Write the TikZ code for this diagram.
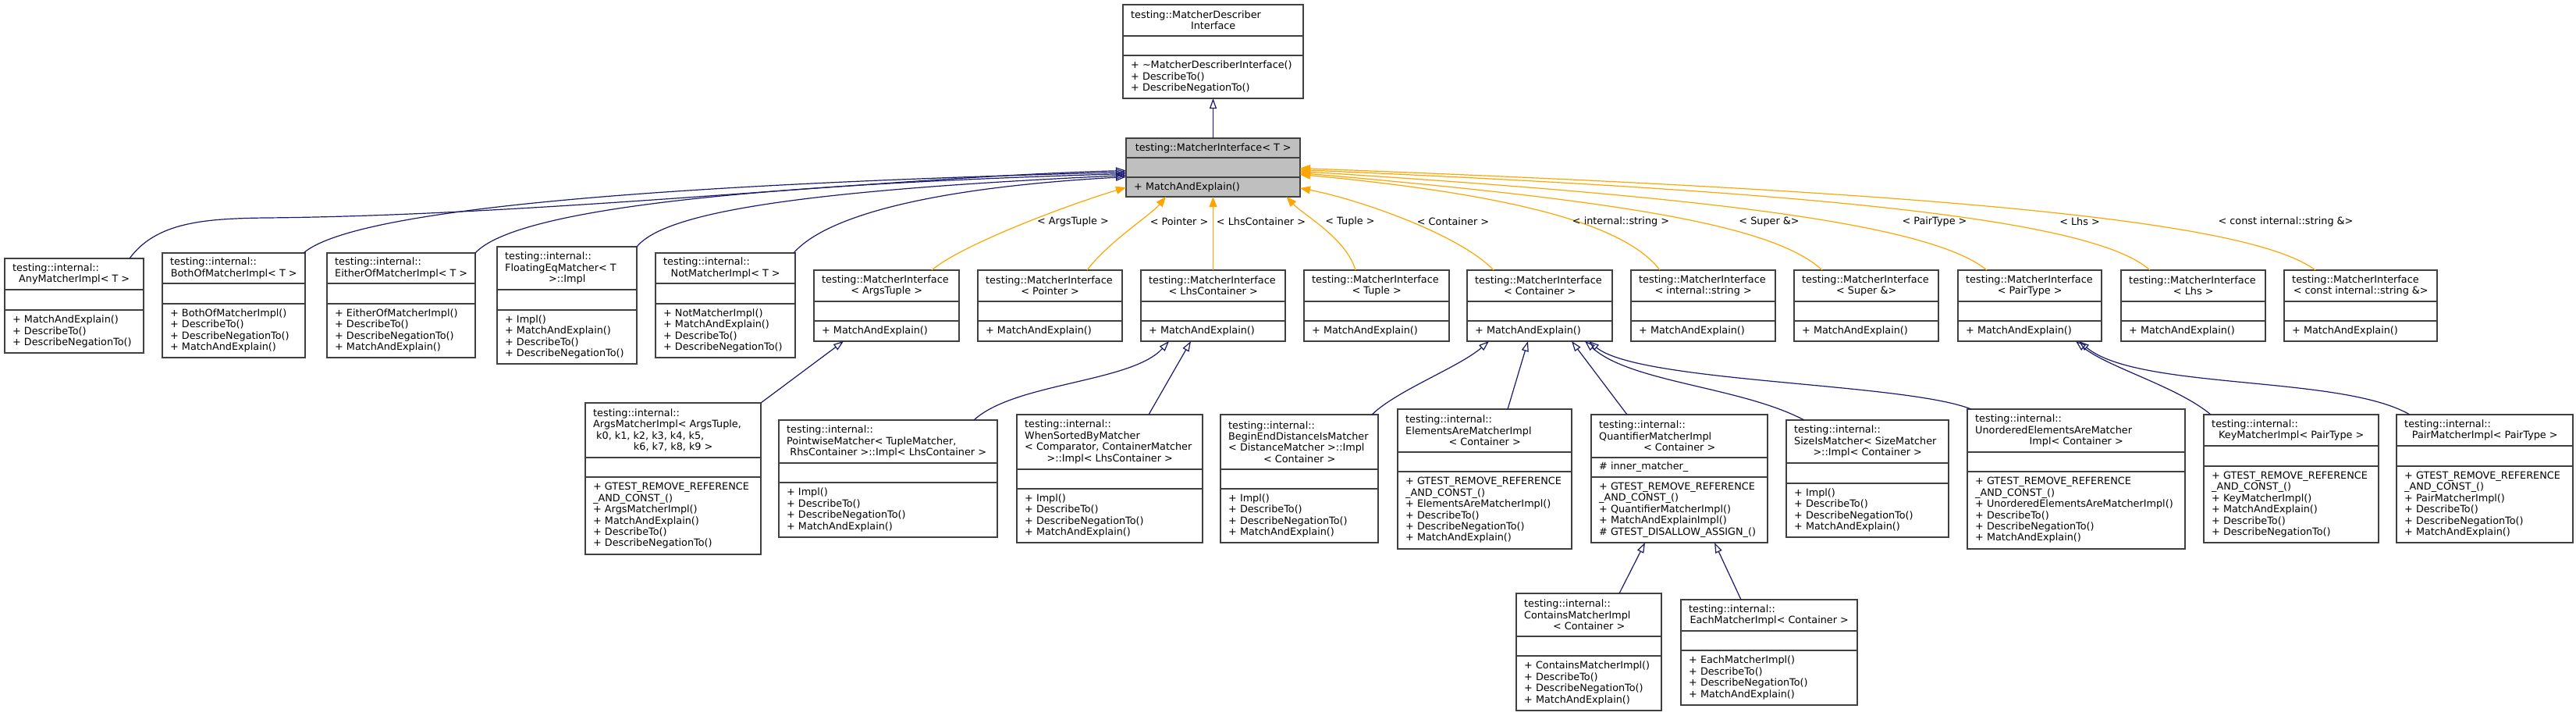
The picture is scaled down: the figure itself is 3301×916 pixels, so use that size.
\documentclass[tikz,border=0pt]{standalone}
\usepackage{fontspec}
\setmainfont{DejaVu Sans}
\usetikzlibrary{arrows.meta,calc}
\definecolor{edgeblue}{HTML}{191970}
\definecolor{edgeorange}{HTML}{FFA500}
\definecolor{boxline}{HTML}{404040}
\definecolor{basefill}{HTML}{BFBFBF}
\newlength\clw
\newcommand\cl[1]{\makebox[\clw]{#1}}
\def\clsfill{white}
% name, x1, y1, x2, y2, title-bottom, attr-bottom, title, methods
\newcommand\cls[9]{%
  \pgfmathsetlength\clw{#4-#2-20}%
  \pgfmathsetmacro\clsW{#4-#2}%
  \pgfmathsetmacro\clsH{#5-#3}%
  \node[clsbox, minimum width=\clsW pt, minimum height=\clsH pt] (#1) at ({(#2+#4)/2},{(#3+#5)/2}) {};
  \draw[sepline] (#2,#6) -- (#4,#6);
  \draw[sepline] (#2,#7) -- (#4,#7);
  \node[clstxt, anchor=west] (#1-t) at ({#2+10},{(#3+#6)/2}) {#8};
  \node[clstxt, anchor=west] (#1-m) at ({#2+10},{(#7+#5)/2}) {#9};
}
\begin{document}
\begin{tikzpicture}[x=1pt,y=-1pt,
  clsbox/.style={draw=boxline, line width=1.6pt, fill=\clsfill, rectangle, inner sep=0pt, outer sep=0pt},
  sepline/.style={draw=boxline, line width=1.6pt},
  clstxt/.style={font=\fontsize{12.8}{14.4}\selectfont, align=left, inner sep=0pt},
  lbl/.style={font=\fontsize{12.8}{14.4}\selectfont, inner sep=0pt},
  inh/.style={draw=edgeblue, line width=1.2pt, -{Triangle[open, length=13pt, width=9pt]}},
  tmpl/.style={draw=edgeorange, line width=1.2pt, -{Triangle[length=13pt, width=10pt]}}]
\fill[white] (0,0) rectangle (3301,916);
\useasboundingbox (0,0) rectangle (3301,916);

% ---------- top
\cls{mdi}{1439}{6}{1670}{126}{46}{71}{testing::MatcherDescriber\\\cl{Interface}}{+ \textasciitilde MatcherDescriberInterface()\\+ DescribeTo()\\+ DescribeNegationTo()}
\def\clsfill{basefill}
\cls{mi}{1443}{177}{1666}{252}{202}{227}{\cl{testing::MatcherInterface< T >}}{+ MatchAndExplain()}
\def\clsfill{white}

% ---------- row 3 : implementations
\cls{any}{6}{331}{184}{452}{371}{397}{testing::internal::\\\cl{AnyMatcherImpl< T >}}{+ MatchAndExplain()\\+ DescribeTo()\\+ DescribeNegationTo()}
\cls{both}{208}{324}{391}{458}{363}{389}{testing::internal::\\\cl{BothOfMatcherImpl< T >}}{+ BothOfMatcherImpl()\\+ DescribeTo()\\+ DescribeNegationTo()\\+ MatchAndExplain()}
\cls{either}{419}{324}{609}{458}{363}{389}{testing::internal::\\\cl{EitherOfMatcherImpl< T >}}{+ EitherOfMatcherImpl()\\+ DescribeTo()\\+ DescribeNegationTo()\\+ MatchAndExplain()}
\cls{floating}{637}{316}{816}{466}{371}{397}{testing::internal::\\FloatingEqMatcher< T\\\cl{>::Impl}}{+ Impl()\\+ MatchAndExplain()\\+ DescribeTo()\\+ DescribeNegationTo()}
\cls{notm}{840}{324}{1019}{458}{363}{389}{testing::internal::\\\cl{NotMatcherImpl< T >}}{+ NotMatcherImpl()\\+ MatchAndExplain()\\+ DescribeTo()\\+ DescribeNegationTo()}

% ---------- row 3 : template instances
\cls{argst}{1043}{346}{1229}{437}{386}{411}{testing::MatcherInterface\\\cl{< ArgsTuple >}}{+ MatchAndExplain()}
\cls{ptr}{1253}{346}{1438}{437}{386}{411}{testing::MatcherInterface\\\cl{< Pointer >}}{+ MatchAndExplain()}
\cls{lhsc}{1462}{346}{1647}{437}{386}{411}{testing::MatcherInterface\\\cl{< LhsContainer >}}{+ MatchAndExplain()}
\cls{tup}{1671}{346}{1857}{437}{386}{411}{testing::MatcherInterface\\\cl{< Tuple >}}{+ MatchAndExplain()}
\cls{cont}{1880}{346}{2066}{437}{386}{411}{testing::MatcherInterface\\\cl{< Container >}}{+ MatchAndExplain()}
\cls{istr}{2090}{346}{2275}{437}{386}{411}{testing::MatcherInterface\\\cl{< internal::string >}}{+ MatchAndExplain()}
\cls{sup}{2299}{346}{2484}{437}{386}{411}{testing::MatcherInterface\\\cl{< Super \&>}}{+ MatchAndExplain()}
\cls{pair}{2509}{346}{2693}{437}{386}{411}{testing::MatcherInterface\\\cl{< PairType >}}{+ MatchAndExplain()}
\cls{lhs}{2718}{346}{2903}{437}{386}{411}{testing::MatcherInterface\\\cl{< Lhs >}}{+ MatchAndExplain()}
\cls{cistr}{2927}{346}{3123}{437}{386}{411}{testing::MatcherInterface\\\cl{< const internal::string \&>}}{+ MatchAndExplain()}

% ---------- row 4
\cls{argsm}{750}{516}{975}{710}{586}{611}{testing::internal::\\ArgsMatcherImpl< ArgsTuple,\\\hspace*{4pt}k0, k1, k2, k3, k4, k5,\\\cl{k6, k7, k8, k9 >}}{+ GTEST\_REMOVE\_REFERENCE\\\_AND\_CONST\_()\\+ ArgsMatcherImpl()\\+ MatchAndExplain()\\+ DescribeTo()\\+ DescribeNegationTo()}
\cls{pw}{998}{538}{1278}{688}{593}{618}{testing::internal::\\PointwiseMatcher< TupleMatcher,\\\cl{RhsContainer >::Impl< LhsContainer >}}{+ Impl()\\+ DescribeTo()\\+ DescribeNegationTo()\\+ MatchAndExplain()}
\cls{wsb}{1303}{531}{1541}{695}{601}{626}{testing::internal::\\WhenSortedByMatcher\\< Comparator, ContainerMatcher\\\cl{>::Impl< LhsContainer >}}{+ Impl()\\+ DescribeTo()\\+ DescribeNegationTo()\\+ MatchAndExplain()}
\cls{bed}{1564}{531}{1766}{695}{601}{626}{testing::internal::\\BeginEndDistanceIsMatcher\\< DistanceMatcher >::Impl\\\cl{< Container >}}{+ Impl()\\+ DescribeTo()\\+ DescribeNegationTo()\\+ MatchAndExplain()}
\cls{eam}{1791}{524}{2014}{703}{579}{604}{testing::internal::\\ElementsAreMatcherImpl\\\cl{< Container >}}{+ GTEST\_REMOVE\_REFERENCE\\\_AND\_CONST\_()\\+ ElementsAreMatcherImpl()\\+ DescribeTo()\\+ DescribeNegationTo()\\+ MatchAndExplain()}
\cls{qm}{2039}{531}{2265}{695}{586}{611}{testing::internal::\\QuantifierMatcherImpl\\\cl{< Container >}}{+ GTEST\_REMOVE\_REFERENCE\\\_AND\_CONST\_()\\+ QuantifierMatcherImpl()\\+ MatchAndExplainImpl()\\\# GTEST\_DISALLOW\_ASSIGN\_()}
\node[clstxt, anchor=west] (qm-a) at (2049,598.5) {\# inner\_matcher\_};
\cls{sim}{2289}{538}{2497}{688}{593}{619}{testing::internal::\\SizeIsMatcher< SizeMatcher\\\cl{>::Impl< Container >}}{+ Impl()\\+ DescribeTo()\\+ DescribeNegationTo()\\+ MatchAndExplain()}
\cls{ueam}{2521}{524}{2800}{703}{579}{604}{testing::internal::\\UnorderedElementsAreMatcher\\\cl{Impl< Container >}}{+ GTEST\_REMOVE\_REFERENCE\\\_AND\_CONST\_()\\+ UnorderedElementsAreMatcherImpl()\\+ DescribeTo()\\+ DescribeNegationTo()\\+ MatchAndExplain()}
\cls{key}{2824}{531}{3048}{695}{571}{597}{testing::internal::\\\cl{KeyMatcherImpl< PairType >}}{+ GTEST\_REMOVE\_REFERENCE\\\_AND\_CONST\_()\\+ KeyMatcherImpl()\\+ MatchAndExplain()\\+ DescribeTo()\\+ DescribeNegationTo()}
\cls{pairm}{3071}{531}{3297}{695}{571}{597}{testing::internal::\\\cl{PairMatcherImpl< PairType >}}{+ GTEST\_REMOVE\_REFERENCE\\\_AND\_CONST\_()\\+ PairMatcherImpl()\\+ DescribeTo()\\+ DescribeNegationTo()\\+ MatchAndExplain()}

% ---------- row 5
\cls{cm}{1943}{760}{2129}{910}{815}{840}{testing::internal::\\ContainsMatcherImpl\\\cl{< Container >}}{+ ContainsMatcherImpl()\\+ DescribeTo()\\+ DescribeNegationTo()\\+ MatchAndExplain()}
\cls{em}{2154}{768}{2380}{903}{808}{833}{testing::internal::\\\cl{EachMatcherImpl< Container >}}{+ EachMatcherImpl()\\+ DescribeTo()\\+ DescribeNegationTo()\\+ MatchAndExplain()}

% ---------- inheritance edges (blue)
\draw[inh] (mi.north) -- (mdi.south);
\draw[inh] ($(any.north east)+(-18,0)$) .. controls (200,285) and (260,280) .. (340,279) .. controls (700,276) and (1150,226) .. ($(mi.west)+(0,4)$);
\draw[inh] ($(both.north east)+(-2,0)$) .. controls (440,280) and (700,240) .. ($(mi.west)+(0,6)$);
\draw[inh] (either.north east) .. controls (650,280) and (850,240) .. ($(mi.west)+(0,8)$);
\draw[inh] (floating.north east) .. controls (850,275) and (1000,245) .. ($(mi.west)+(0,10)$);
\draw[inh] ($(notm.north east)+(-2,0)$) .. controls (1060,275) and (1200,240) .. ($(mi.west)+(0,12)$);

\draw[inh] (argsm.north east) -- ($(argst.south west)+(38,0)$);
\draw[inh] ($(pw.north west)+(250,0)$) .. controls (1300,490) and (1450,490) .. ($(lhsc.south west)+(36,0)$);
\draw[inh] ($(wsb.north west)+(169,0)$) -- ($(lhsc.south west)+(64,0)$);
\draw[inh] ($(bed.north west)+(194,0)$) .. controls (1790,500) and (1870,470) .. ($(cont.south west)+(28,0)$);
\draw[inh] ($(eam.north west)+(141,0)$) -- ($(cont.south west)+(78,0)$);
\draw[inh] ($(qm.north west)+(46,0)$) -- ($(cont.south west)+(134,0)$);
\draw[inh] ($(sim.north west)+(23,0)$) .. controls (2230,495) and (2090,490) .. ($(cont.south west)+(151,0)$);
\draw[inh] ($(ueam.north west)+(5,0)$) .. controls (2440,490) and (2100,490) .. ($(cont.south west)+(156,0)$);
\draw[inh] ($(key.north west)+(9,0)$) .. controls (2790,495) and (2700,470) .. ($(pair.south west)+(151,0)$);
\draw[inh] ($(pairm.north west)+(17,0)$) .. controls (3000,480) and (2740,500) .. ($(pair.south west)+(155,0)$);
\draw[inh] ($(cm.north west)+(132,0)$) -- ($(qm.south west)+(69,0)$);
\draw[inh] ($(em.north west)+(77,0)$) -- ($(qm.south west)+(158,0)$);

% ---------- template instance edges (orange)
\draw[tmpl] ($(argst.north west)+(151,0)$) .. controls (1230,315) and (1360,265) .. ($(mi.south west)+(0,-12)$);
\draw[tmpl] ($(ptr.north west)+(140,0)$) .. controls (1420,310) and (1475,275) .. ($(mi.south)+(-60.5,0)$);
\draw[tmpl] (lhsc.north) -- (mi.south);
\draw[tmpl] ($(tup.north west)+(66,0)$) .. controls (1725,305) and (1670,275) .. ($(mi.south)+(94,0)$);
\draw[tmpl] ($(cont.north west)+(34,0)$) .. controls (1870,300) and (1740,255) .. ($(mi.south east)+(0,-11)$);
\draw[tmpl] ($(istr.north west)+(37,0)$) .. controls (2085,290) and (1950,250) .. ($(mi.east)+(0,9)$);
\draw[tmpl] ($(sup.north west)+(36,0)$) .. controls (2270,285) and (2050,255) .. ($(mi.east)+(0,7)$);
\draw[tmpl] ($(pair.north west)+(37,0)$) .. controls (2470,283) and (2150,250) .. ($(mi.east)+(0,5)$);
\draw[tmpl] ($(lhs.north west)+(37,0)$) .. controls (2680,278) and (2300,245) .. ($(mi.east)+(0,3)$);
\draw[tmpl] ($(cistr.north west)+(40,0)$) .. controls (2880,280) and (2450,245) .. ($(mi.east)+(0,1)$);

% ---------- edge labels
\node[lbl] (l-argst) at (1375,284) {< ArgsTuple >};
\node[lbl] (l-ptr) at (1511,284) {< Pointer >};
\node[lbl] (l-lhsc) at (1616,284) {< LhsContainer >};
\node[lbl] (l-tup) at (1730,284) {< Tuple >};
\node[lbl] (l-cont) at (1862,284) {< Container >};
\node[lbl] (l-istr) at (2077,284) {< internal::string >};
\node[lbl] (l-sup) at (2267,284) {< Super \&>};
\node[lbl] (l-pair) at (2479,284) {< PairType >};
\node[lbl] (l-lhs) at (2665,284) {< Lhs >};
\node[lbl] (l-cistr) at (2929,284) {< const internal::string \&>};
\end{tikzpicture}
\end{document}
